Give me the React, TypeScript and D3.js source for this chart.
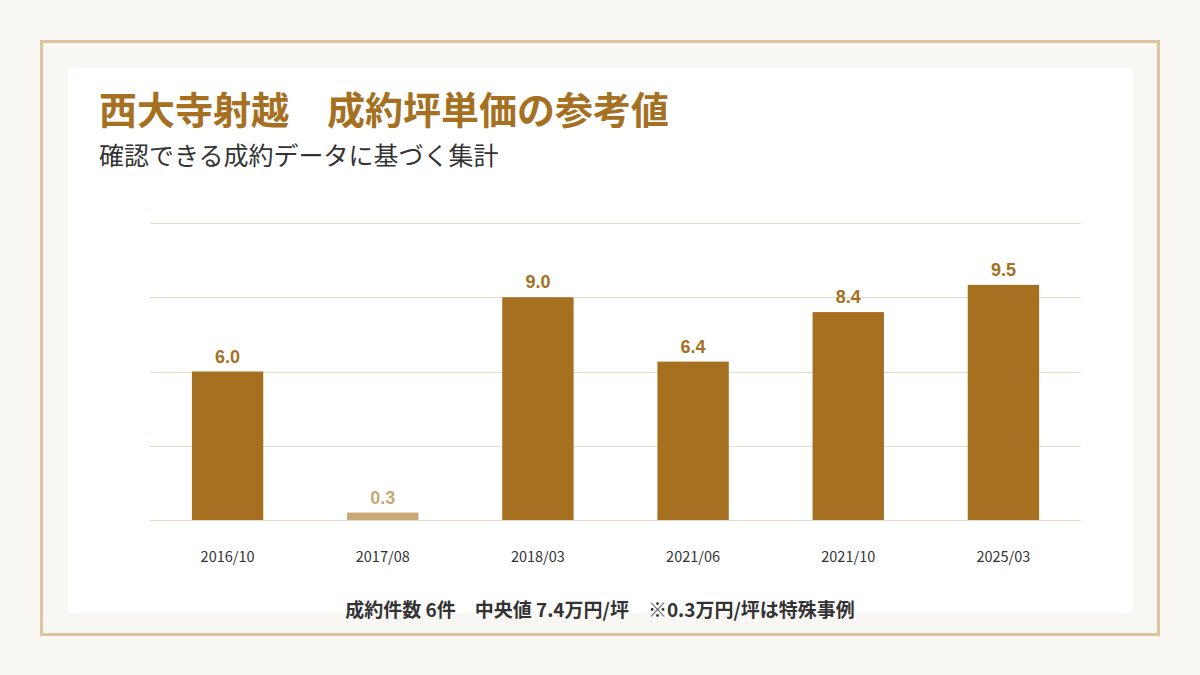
import React, { useEffect, useRef } from "react";
import * as d3 from "d3";

const months = ["2016/10", "2017/08", "2018/03", "2021/06", "2021/10", "2025/03"];
const prices = [6.0, 0.3, 9.0, 6.4, 8.4, 9.5];
const special = [false, true, false, false, false, false];
const gridTicks = [0, 3, 6, 9, 12];

const titleText = "西大寺射越　成約坪単価の参考値";
const subtitleText = "確認できる成約データに基づく集計";
const footerText = "成約件数 6件　中央値 7.4万円/坪　※0.3万円/坪は特殊事例";

const gold = "#a5701f";
const goldLight = "#c9a878";
const jp = "'Noto Sans CJK JP', 'Noto Sans', sans-serif";

const App: React.FC = () => {
  const svgRef = useRef<SVGSVGElement | null>(null);

  useEffect(() => {
    if (!svgRef.current) return;
    const width = 1200;
    const height = 675;

    const svg = d3.select(svgRef.current);
    svg.selectAll("*").remove();
    svg.attr("width", width).attr("height", height);

    svg.append("rect").attr("width", width).attr("height", height).attr("fill", "#f9f7f4");
    svg.append("rect")
      .attr("x", 41.5).attr("y", 41.5).attr("width", 1117).attr("height", 593)
      .attr("fill", "none").attr("stroke", "#dcc59c").attr("stroke-width", 3);
    svg.append("rect")
      .attr("x", 68).attr("y", 68).attr("width", 1065).attr("height", 545)
      .attr("fill", "#ffffff");

    svg.append("text")
      .attr("x", 99).attr("y", 124)
      .attr("font-family", jp).attr("font-weight", 700).attr("font-size", 38)
      .attr("fill", gold).text(titleText);
    svg.append("text")
      .attr("x", 99).attr("y", 165)
      .attr("font-family", jp).attr("font-weight", 400).attr("font-size", 25)
      .attr("fill", "#333").text(subtitleText);

    const x = d3.scaleBand<string>().domain(months).range([150, 1081]).paddingInner(0.54).paddingOuter(0.27);
    const y = d3.scaleLinear().domain([0, 12]).range([520, 223]);

    const g = svg.append("g");
    g.selectAll("line.grid")
      .data(gridTicks)
      .enter()
      .append("line")
      .attr("x1", 150).attr("x2", 1081)
      .attr("y1", (d) => Math.round(y(d)) + 0.5).attr("y2", (d) => Math.round(y(d)) + 0.5)
      .attr("stroke", "#e6dcc8").attr("stroke-width", 1);

    const idx = d3.range(months.length);
    g.selectAll("rect.bar")
      .data(idx)
      .enter()
      .append("rect")
      .attr("x", (i) => x(months[i])!)
      .attr("width", x.bandwidth())
      .attr("y", (i) => y(prices[i]))
      .attr("height", (i) => y(0) - y(prices[i]))
      .attr("fill", (i) => (special[i] ? goldLight : gold));

    g.selectAll("text.val")
      .data(idx)
      .enter()
      .append("text")
      .attr("x", (i) => x(months[i])! + x.bandwidth() / 2)
      .attr("y", (i) => y(prices[i]) - 9)
      .attr("text-anchor", "middle")
      .attr("font-family", "'Liberation Sans', Arial, sans-serif")
      .attr("font-weight", 700).attr("font-size", 18)
      .attr("fill", (i) => (special[i] ? goldLight : gold))
      .text((i) => prices[i].toFixed(1));

    g.selectAll("text.month")
      .data(months)
      .enter()
      .append("text")
      .attr("x", (d) => x(d)! + x.bandwidth() / 2)
      .attr("y", 562)
      .attr("text-anchor", "middle")
      .attr("font-family", jp).attr("font-size", 14.5)
      .attr("fill", "#333").text((d) => d);

    svg.append("text")
      .attr("x", 600).attr("y", 617)
      .attr("text-anchor", "middle")
      .attr("font-family", jp).attr("font-weight", 700).attr("font-size", 19)
      .attr("fill", "#333").text(footerText);
  }, []);

  return <svg ref={svgRef} style={{ display: "block", position: "absolute", left: 0, top: 0 }}></svg>;
};

export default App;
